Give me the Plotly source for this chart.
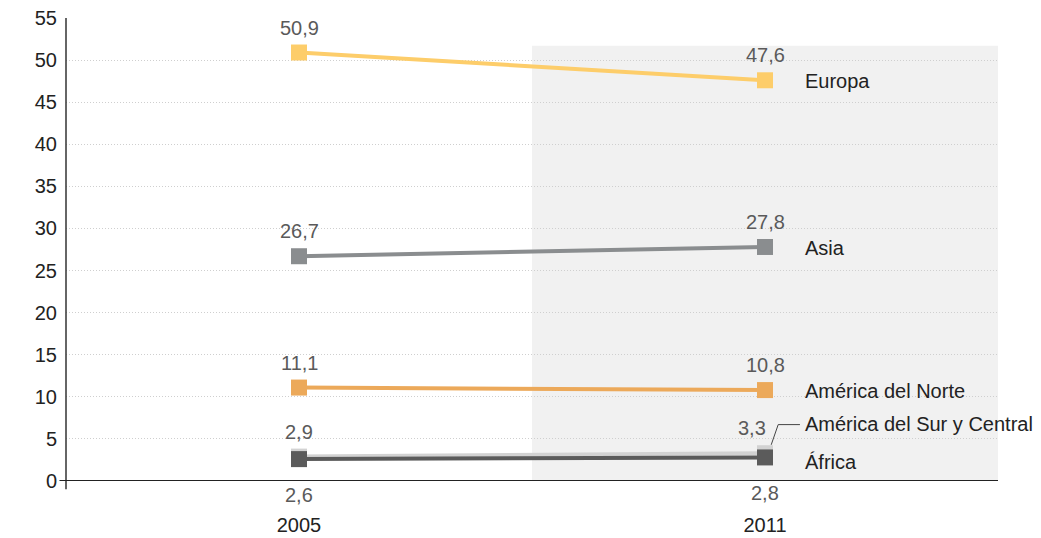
import plotly.graph_objects as go

years = [2005, 2011]
regions = ["Europa", "Asia", "América del Norte", "América del Sur y Central", "África"]
europa = [50.9, 47.6]
asia = [26.7, 27.8]
norte = [11.1, 10.8]
sur_central = [2.9, 3.3]
africa = [2.6, 2.8]
y_ticks = list(range(0, 60, 5))

series = [
    ("América del Sur y Central", sur_central, "#d2d2d2"),
    ("África", africa, "#5b5b5b"),
    ("América del Norte", norte, "#eca95a"),
    ("Asia", asia, "#8a8d8f"),
    ("Europa", europa, "#fdcd6a"),
]

FONT = "Liberation Sans, Arial, sans-serif"
SIZE = 20

fig = go.Figure()

# shaded period
fig.add_shape(type="rect", xref="x", yref="y", x0=2008, x1=2014, y0=0, y1=51.7,
              fillcolor="#f1f1f1", line={"width": 0}, layer="below")

for name, vals, color in series:
    fig.add_trace(go.Scatter(
        x=years, y=vals, name=name, mode="lines+markers",
        line={"color": color, "width": 4},
        marker={"symbol": "square", "size": 16, "color": color},
        cliponaxis=False,
    ))
    # value labels
    for i, (x, v) in enumerate(zip(years, vals)):
        txt = f"{v:.1f}".replace(".", ",")
        if name == "África":
            yshift, xshift = -36, 0
        elif name == "América del Sur y Central" and i == 1:
            yshift, xshift = 25, -13
        else:
            yshift, xshift = 25, 0
        fig.add_annotation(x=x, y=v, text=txt, showarrow=False, xshift=xshift, yshift=yshift,
                           font={"family": FONT, "size": SIZE, "color": "#5a5a5a"})

# series names at the right
name_y = {"Europa": europa[-1], "Asia": asia[-1], "América del Norte": norte[-1],
          "América del Sur y Central": 6.9, "África": 2.4}
for name, vals, color in series:
    fig.add_annotation(x=2011, y=name_y[name], text=name, showarrow=False,
                       xanchor="left", xshift=38, yshift=-1,
                       font={"family": FONT, "size": SIZE, "color": "#222222"})

# leader line for América del Sur y Central
fig.add_shape(type="path", xref="x", yref="y",
              path="M 2011.08,4.3 L 2011.17,6.7 L 2011.45,6.7",
              line={"color": "#444444", "width": 1})

# axis cross lines
fig.add_shape(type="line", xref="paper", yref="paper", x0=0, x1=0, y0=-0.018, y1=1,
              line={"color": "#333333", "width": 1.5})
fig.add_shape(type="line", xref="paper", yref="y", x0=-0.007, x1=1, y0=0, y1=0,
              line={"color": "#222222", "width": 2})

fig.update_xaxes(range=[2002, 2014], tickvals=years, ticktext=[str(y) for y in years],
                 showgrid=False, zeroline=False, showline=False, ticks="",
                 ticklabelstandoff=30, automargin=False, ticklabeloverflow="allow",
                 tickfont={"family": FONT, "size": SIZE, "color": "#222222"})
fig.update_yaxes(range=[0, 55], tickvals=y_ticks, showgrid=True,
                 gridcolor="#cfcfcf", griddash="1px,2px", gridwidth=1,
                 zeroline=False, showline=False, ticks="",
                 ticklabelstandoff=8, automargin=False, ticklabeloverflow="allow",
                 tickfont={"family": FONT, "size": SIZE, "color": "#222222"})

# page body adds an 8px offset, so the figure is a little smaller than the window
fig.update_layout(
    width=1033, height=530,
    showlegend=False,
    margin={"l": 58, "r": 43, "t": 10, "b": 57},
    plot_bgcolor="white",
    paper_bgcolor="white",
    font={"family": FONT},
)

fig.write_html("out.html")
